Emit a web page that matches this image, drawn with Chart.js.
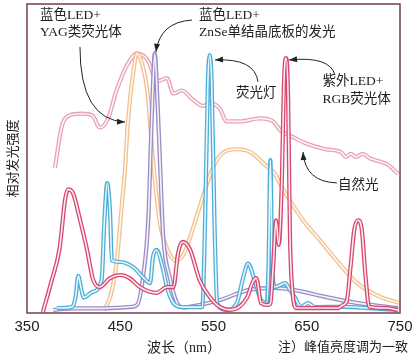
<!DOCTYPE html>
<html>
<head>
<meta charset="utf-8">
<script src="https://cdn.jsdelivr.net/npm/chart.js@4/dist/chart.umd.min.js"></script>
<style>
  body { margin: 0; background: #fff; }
  canvas { display: block; }
</style>
</head>
<body>
<canvas id="spectrum" width="418" height="361"></canvas>
<script>
// wavelength (nm) and relative intensity, one pair of arrays per light source
var naturalNm  = [380, 387, 396, 408, 420, 428, 437, 446, 457, 468, 479, 490, 500, 507, 516, 528, 539, 546, 557, 564, 578, 600, 614, 622, 635, 648, 670, 687, 692, 697, 703, 710, 718, 723, 737, 748];
var naturalVal = [47, 60, 64, 64.5, 64, 60, 63, 72, 80, 84, 82, 75, 76, 71, 72, 69, 67, 68, 66, 62, 62, 63, 62, 59, 57, 55, 53, 52, 50.5, 51.5, 50.5, 51.5, 50, 49.5, 48, 45];

var yagNm  = [433, 440, 446, 452, 455, 458, 464, 468, 473, 479, 485, 492, 500, 510, 518, 525, 539, 548, 557, 575, 590, 605, 616, 621, 646, 664, 682, 704, 729, 750];
var yagVal = [1, 6, 16, 36, 46, 61, 78, 84, 81, 72, 50, 30, 21, 17, 19, 24.6, 38, 46, 51, 53, 52, 48, 45, 42, 30, 23.6, 17, 9.7, 5.2, 3.2];

var znseNm  = [378, 400, 430, 462, 468, 474, 480, 484, 487, 490, 493, 496, 503, 511, 518, 535, 557, 587, 616, 637, 670, 705, 748];
var znseVal = [1, 1.5, 1.5, 2, 2.6, 10.7, 30, 65, 84, 68, 46, 25, 11.7, 3.2, 1.8, 2.6, 4.2, 7.4, 8.1, 7.4, 5.2, 3.2, 1.6];

var lampNm  = [382, 398, 402, 405, 408, 411, 420, 430, 433, 436, 439, 441, 450, 465, 474, 482, 485, 489, 496, 500, 507, 517, 536, 538, 541, 544, 546, 548, 551, 554, 564, 575, 582, 587, 594, 601, 607, 609, 611, 613, 616, 627, 632, 637, 644, 651, 659, 690, 716, 748];
var lampVal = [1.6, 1.9, 5, 12, 8, 5, 6.8, 10.7, 30, 42, 33, 17, 16.5, 14.6, 11.7, 9.7, 18, 20.4, 14, 8.4, 3.2, 1.9, 1.9, 2, 30, 75, 83.5, 75, 30, 3, 1, 3.2, 11.7, 16, 10.7, 4.2, 3.2, 15, 49.5, 15, 8.4, 9.7, 7.4, 5.2, 1.9, 3.2, 1.9, 2, 1.6, 1];

var uvNm  = [367, 376, 385, 391, 394, 399, 407, 414, 421, 428, 439, 450, 460, 471, 489, 500, 507, 512, 517, 525, 535, 546, 557, 568, 586, 592, 596, 601, 608, 611, 614, 617, 620, 623, 626, 628, 630, 632, 635, 639, 660, 684, 688, 693, 697, 701, 705, 709, 713, 717, 735, 748];
var uvVal = [0.3, 10, 21, 37, 40, 39, 30, 21, 10.7, 8.4, 11.3, 12.3, 11.3, 8.4, 6.5, 8.4, 8.4, 19.4, 23, 20.4, 10.7, 5.2, 1.9, 1, 5, 10, 11.3, 3.2, 2.6, 3, 15, 30, 22, 40, 78, 82.5, 70, 25, 6, 1.6, 1.6, 1.6, 2.5, 4, 15, 27, 30, 27, 12, 2, 1.6, 1];

// axis ticks
var wavelengthTicks = [350, 450, 550, 650, 750];

// callouts: label lines plus an arrow (start, bend, tip) in nm / intensity units
var callouts = [
  { lines: ['蓝色LED+', 'YAG类荧光体'], nm: 364, v: 96.4, arrow: [[406.8, 86.1], [406.8, 62.5], [455.1, 61.8]] },
  { lines: ['蓝色LED+', 'ZnSe单结晶底板的发光'], nm: 534.4, v: 96.4, arrow: [[527, 94.8], [492.6, 94.2], [488.3, 84.5]] },
  { lines: ['荧光灯'], nm: 574, v: 71.2, arrow: [[597.7, 74.8], [594.5, 82.5], [551.6, 81.9]] },
  { lines: ['紫外LED+', 'RGB荧光体'], nm: 667, v: 74.8, arrow: [[680.3, 77], [674.9, 83.2], [631, 81.9]] },
  { lines: ['自然光'], nm: 683.5, v: 41.4, arrow: [[682.4, 42.1], [648.1, 42.4], [646, 52.1]] }
];

function toPoints(nm, val) {
  return nm.map(function (x, i) { return { x: x, y: val[i] }; });
}

// top-most first; each curve is a coloured stroke with a pale core drawn over it
var series = [
  { nm: uvNm, val: uvVal, color: '#d8476f' },
  { nm: lampNm, val: lampVal, color: '#4cafd9' },
  { nm: znseNm, val: znseVal, color: '#9a8cc6' },
  { nm: yagNm, val: yagVal, color: '#f2c08e' },
  { nm: naturalNm, val: naturalVal, color: '#e9a2b6' }
];

var datasets = [];
series.forEach(function (s) {
  var pts = toPoints(s.nm, s.val);
  datasets.push({ data: pts, borderColor: 'rgba(255,255,255,0.9)', borderWidth: 1.6,
    pointRadius: 0, cubicInterpolationMode: 'monotone', fill: false });
  datasets.push({ data: pts, borderColor: s.color, borderWidth: 4.2,
    pointRadius: 0, cubicInterpolationMode: 'monotone', fill: false });
});

var serifFont = "'Liberation Serif', 'Noto Sans CJK SC', serif";

// frame, callouts, arrows and the bottom texts
var decorations = {
  id: 'decorations',
  afterDatasetsDraw: function (chart) {
    var c = chart.ctx, a = chart.chartArea;
    var xs = chart.scales.x, ys = chart.scales.y;
    c.save();
    c.strokeStyle = '#7b4a5c';
    c.lineWidth = 1.6;
    c.strokeRect(a.left, a.top, a.right - a.left, a.bottom - a.top);

    c.fillStyle = '#222';
    c.font = '13.5px ' + serifFont;
    c.textBaseline = 'middle';
    c.textAlign = 'left';
    callouts.forEach(function (co) {
      var px = xs.getPixelForValue(co.nm), py = ys.getPixelForValue(co.v);
      co.lines.forEach(function (t, i) { c.fillText(t, px, py + i * 17.5); });

      var p = co.arrow.map(function (q) { return [xs.getPixelForValue(q[0]), ys.getPixelForValue(q[1])]; });
      c.strokeStyle = '#222';
      c.lineWidth = 1;
      c.beginPath();
      c.moveTo(p[0][0], p[0][1]);
      c.quadraticCurveTo(p[1][0], p[1][1], p[2][0], p[2][1]);
      c.stroke();
      var ang = Math.atan2(p[2][1] - p[1][1], p[2][0] - p[1][0]);
      c.beginPath();
      c.moveTo(p[2][0], p[2][1]);
      c.lineTo(p[2][0] - 8 * Math.cos(ang) + 3 * Math.sin(ang), p[2][1] - 8 * Math.sin(ang) - 3 * Math.cos(ang));
      c.lineTo(p[2][0] - 8 * Math.cos(ang) - 3 * Math.sin(ang), p[2][1] - 8 * Math.sin(ang) + 3 * Math.cos(ang));
      c.closePath();
      c.fillStyle = '#222';
      c.fill();
    });

    c.fillStyle = '#222';
    c.font = '14px ' + serifFont;
    c.textAlign = 'left';
    c.fillText('波长（nm）', 147, 348);
    c.font = '13px ' + serifFont;
    c.fillText('注）峰值亮度调为一致', 278, 348);
    c.restore();
  }
};

var ctx = document.getElementById('spectrum').getContext('2d');
var chart = new Chart(ctx, {
  type: 'line',
  data: { datasets: datasets },
  options: {
    responsive: false,
    animation: false,
    devicePixelRatio: 1,
    layout: { padding: { top: 4, right: 18, left: 0, bottom: 0 } },
    plugins: { legend: { display: false }, tooltip: { enabled: false } },
    scales: {
      x: {
        type: 'linear', min: 350, max: 750,
        grid: { display: false, drawTicks: false },
        border: { display: false },
        afterBuildTicks: function (scale) {
          scale.ticks = wavelengthTicks.map(function (v) { return { value: v }; });
        },
        afterFit: function (scale) { scale.height = 48; },
        ticks: { color: '#222', padding: 5, maxRotation: 0,
          font: { family: "'Liberation Sans', Arial, sans-serif", size: 15 } }
      },
      y: {
        min: 0, max: 100,
        grid: { display: false },
        border: { display: false },
        ticks: { display: false },
        afterFit: function (scale) { scale.width = 27; },
        title: { display: true, text: '相对发光强度', color: '#222',
          font: { family: "'Noto Sans CJK SC', sans-serif", size: 13 } }
      }
    }
  },
  plugins: [decorations]
});
</script>
</body>
</html>
